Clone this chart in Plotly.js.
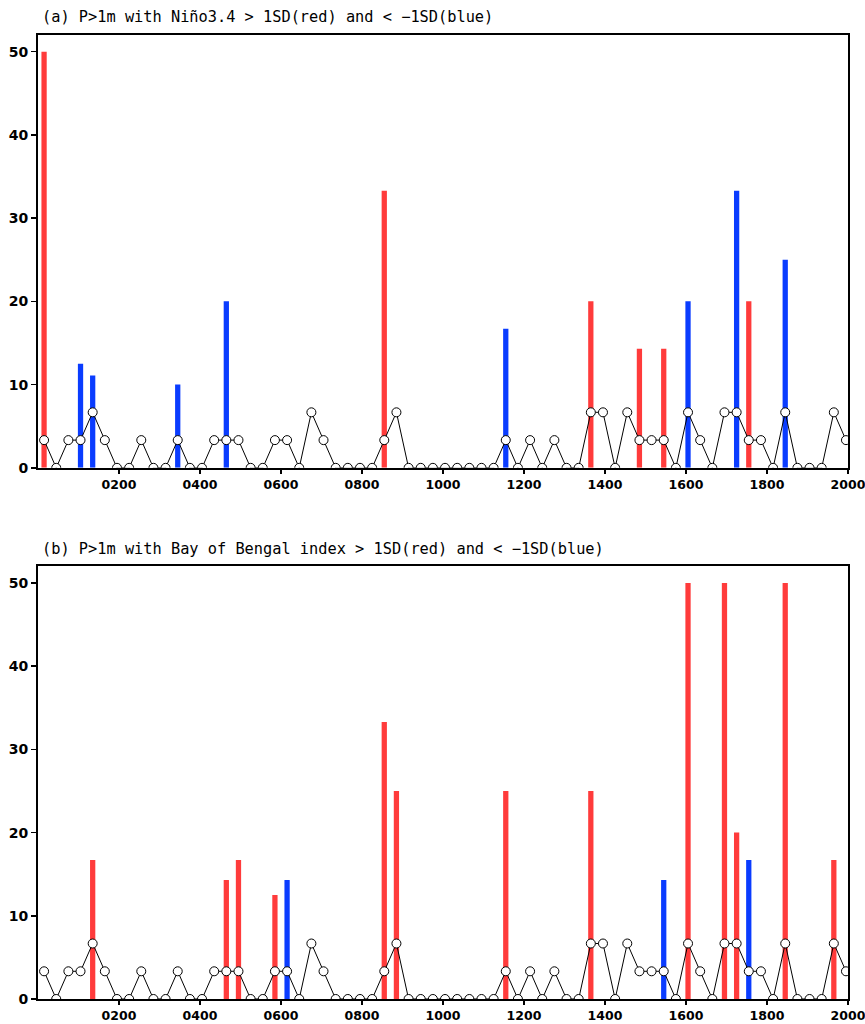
<!DOCTYPE html>
<html>
<head>
<meta charset="utf-8">
<script src="https://cdn.plot.ly/plotly-3.0.1.min.js"></script>
<style>html,body{margin:0;padding:0;background:#fff;}#chart{width:865px;height:1024px;}</style>
</head>
<body>
<div id="chart"></div>
<script>
// Bin centres (years) for the open-circle frequency line
const binYears = [15,45,75,105,135,165,195,225,255,285,315,345,375,405,435,465,495,525,555,585,615,645,675,705,735,765,795,825,855,885,915,945,975,1005,1035,1065,1095,1125,1155,1185,1215,1245,1275,1305,1335,1365,1395,1425,1455,1485,1515,1545,1575,1605,1635,1665,1695,1725,1755,1785,1815,1845,1875,1905,1935,1965,1995];
const freqPct = [3.33,0,3.33,3.33,6.67,3.33,0,0,3.33,0,0,3.33,0,0,3.33,3.33,3.33,0,0,3.33,3.33,0,6.67,3.33,0,0,0,0,3.33,6.67,0,0,0,0,0,0,0,0,3.33,0,3.33,0,3.33,0,0,6.67,6.67,0,6.67,3.33,3.33,3.33,0,6.67,3.33,0,6.67,6.67,3.33,3.33,0,6.67,0,0,0,6.67,3.33];

// Panel (a): Nino3.4
const ninoRedX  = [15, 855, 1365, 1485, 1545, 1755];
const ninoRedY  = [50, 33.3, 20, 14.3, 14.3, 20];
const ninoBlueX = [105, 135, 345, 465, 1155, 1605, 1725, 1845];
const ninoBlueY = [12.5, 11.1, 10, 20, 16.7, 20, 33.3, 25];

// Panel (b): Bay of Bengal
const bobRedX  = [135, 465, 495, 585, 855, 885, 1155, 1365, 1605, 1695, 1725, 1845, 1965];
const bobRedY  = [16.7, 14.3, 16.7, 12.5, 33.3, 25, 25, 25, 50, 50, 20, 50, 16.7];
const bobBlueX = [615, 1545, 1755];
const bobBlueY = [14.3, 14.3, 16.7];

const xTickVals = [200,400,600,800,1000,1200,1400,1600,1800,2000];
const xTickText = ["0200","0400","0600","0800","1000","1200","1400","1600","1800","2000"];
const yTickVals = [0,10,20,30,40,50];

const titleA = "(a) P>1m with Niño3.4 > 1SD(red) and < \u22121SD(blue)";
const titleB = "(b) P>1m with Bay of Bengal index > 1SD(red) and < \u22121SD(blue)";

const RED = "#ff3b3b", BLUE = "#0a3cff";
const BW = 13;

function bars(x, y, color, xa, ya) {
  return {type:"bar", x:x, y:y, width:x.map(()=>BW), marker:{color:color, line:{width:0}},
          xaxis:xa, yaxis:ya, showlegend:false, hoverinfo:"skip"};
}
function line(xa, ya) {
  return {type:"scatter", mode:"lines+markers", x:binYears, y:freqPct,
          line:{color:"#000", width:1},
          marker:{symbol:"circle", size:9, color:"#fff", line:{color:"#000", width:1}},
          xaxis:xa, yaxis:ya, showlegend:false, cliponaxis:true};
}

const data = [
  bars(ninoRedX, ninoRedY, RED, "x", "y"),
  bars(ninoBlueX, ninoBlueY, BLUE, "x", "y"),
  line("x", "y"),
  bars(bobRedX, bobRedY, RED, "x2", "y2"),
  bars(bobBlueX, bobBlueY, BLUE, "x2", "y2"),
  line("x2", "y2")
];

const xTickFont = {family:"DejaVu Sans, sans-serif", size:12.5, weight:"bold", color:"#000"};
const yTickFont = {family:"DejaVu Sans, sans-serif", size:14, weight:"bold", color:"#000"};
function xaxis(anchor) {
  return {range:[0,2000], anchor:anchor, tickmode:"array", tickvals:xTickVals, ticktext:xTickText,
          ticks:"outside", ticklen:4, tickwidth:1.5, tickcolor:"#000", ticklabeloverflow:"allow",
          showline:true, linewidth:2, linecolor:"#000", mirror:true, showgrid:false, zeroline:false,
          tickfont:xTickFont, fixedrange:true};
}
function yaxis(anchor, dom) {
  return {range:[0,52], anchor:anchor, domain:dom, tickmode:"array", tickvals:yTickVals,
          ticks:"outside", ticklen:5, tickwidth:1.5, tickcolor:"#000",
          showline:true, linewidth:2, linecolor:"#000", mirror:true, showgrid:false, zeroline:false,
          tickfont:yTickFont, fixedrange:true};
}

const titleFont = {family:"DejaVu Sans Mono, monospace", size:15.3, color:"#000"};
const layout = {
  width:865, height:1024,
  margin:{l:38, r:17, t:35, b:25},
  paper_bgcolor:"#fff", plot_bgcolor:"#fff",
  barmode:"overlay",
  xaxis: xaxis("y"),
  yaxis: yaxis("x", [0.5510, 1]),
  xaxis2: xaxis("y2"),
  yaxis2: yaxis("x2", [0, 0.4488]),
  annotations:[
    {text:titleA, xref:"paper", yref:"paper", x:0.002, y:1, yshift:18, xanchor:"left", yanchor:"middle",
     showarrow:false, font:titleFont},
    {text:titleB, xref:"paper", yref:"paper", x:0.002, y:0.4488, yshift:17, xanchor:"left", yanchor:"middle",
     showarrow:false, font:titleFont}
  ]
};

Plotly.newPlot("chart", data, layout, {displayModeBar:false, staticPlot:true});
</script>
</body>
</html>
